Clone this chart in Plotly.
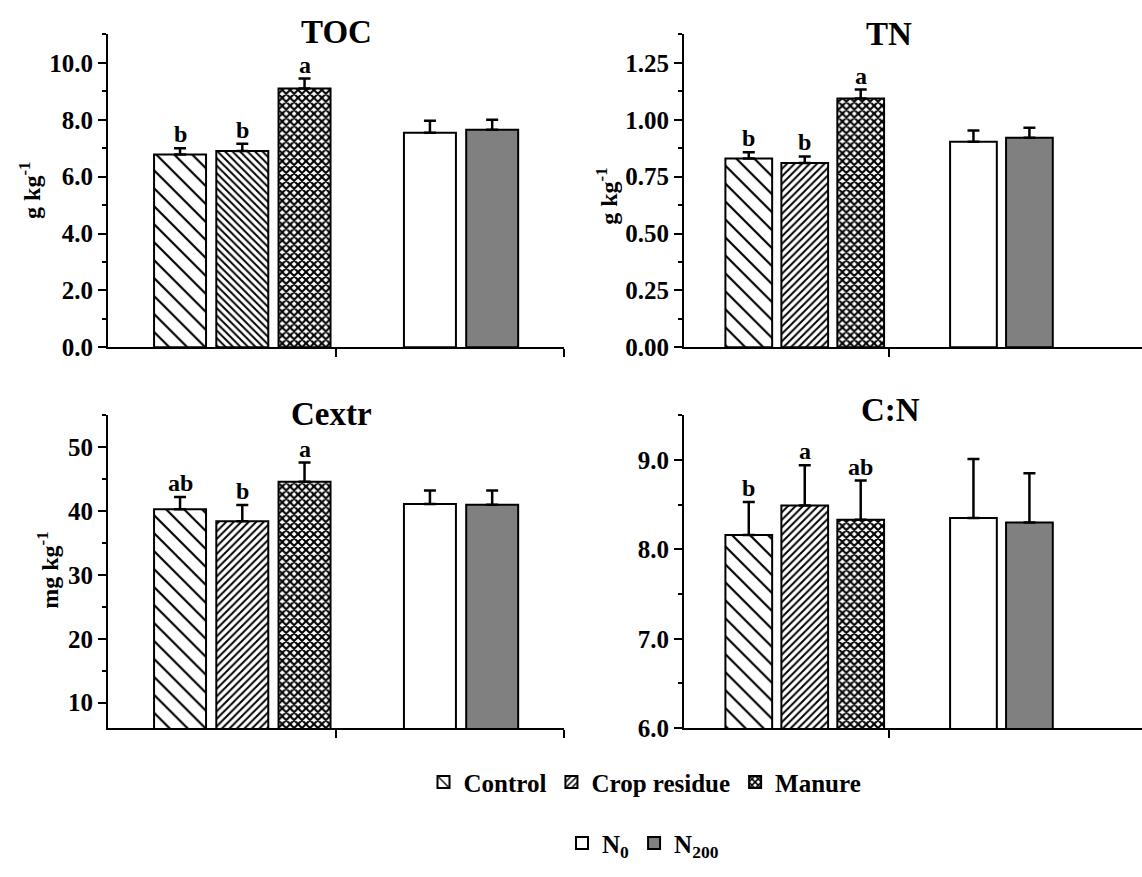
import plotly.graph_objects as go

# ---------------- data ----------------
treatments = ["Control", "Crop residue", "Manure"]
n_levels = ["N<sub>0</sub>", "N<sub>200</sub>"]
panel_titles = ["TOC", "TN", "Cextr", "C:N"]
unit_labels = ["g kg<sup>-1</sup>", "g kg<sup>-1</sup>", "mg kg<sup>-1</sup>", ""]

toc_mean = [6.78, 6.90, 9.10, 7.54, 7.65]
toc_err = [0.22, 0.26, 0.35, 0.43, 0.35]
toc_letters = ["b", "b", "a", "", ""]

tn_mean = [0.830, 0.810, 1.094, 0.903, 0.921]
tn_err = [0.027, 0.029, 0.039, 0.050, 0.044]
tn_letters = ["b", "b", "a", "", ""]

cextr_mean = [40.3, 38.4, 44.6, 41.1, 41.0]
cextr_err = [1.9, 2.55, 3.0, 2.1, 2.2]
cextr_letters = ["ab", "b", "a", "", ""]

cn_mean = [8.16, 8.49, 8.33, 8.35, 8.30]
cn_err = [0.37, 0.45, 0.44, 0.66, 0.55]
cn_letters = ["b", "a", "ab", "", ""]

# ---------------- layout constants ----------------
FONT = "Liberation Serif, Times New Roman, serif"
W, H = 1142, 877

def xdom(a, b):
    return [a / W, b / W]

def ydom(top, bottom):
    return [1 - bottom / H, 1 - top / H]

step = 0.273
bar_w = 0.228
positions = [0.316, 0.316 + step, 0.316 + 2 * step, 1.412, 1.412 + step]

names = treatments + n_levels

def style(i, crop_shape="/"):
    if i == 0:
        return dict(color="white", pattern=dict(shape="\\", size=12.7, solidity=0.17,
                                                 fgcolor="black", bgcolor="white", fillmode="replace"))
    if i == 1:
        return dict(color="white", pattern=dict(shape=crop_shape, size=5.3, solidity=0.36,
                                                 fgcolor="black", bgcolor="white", fillmode="replace"))
    if i == 2:
        return dict(color="white", pattern=dict(shape="x", size=5.6, solidity=0.6,
                                                 fgcolor="black", bgcolor="white", fillmode="replace"))
    if i == 3:
        return dict(color="white")
    return dict(color="#808080")

panels = [
    dict(mean=toc_mean, err=toc_err, letters=toc_letters, xd=(108, 564), yd=(35, 353),
         xr=[0, 2.0], xticks=[1, 2], yr=[0, 11], dt=2, mdt=1, fmt=".1f", crop="\\",
         title_xy=(336, 33), unit_xy=(30, 194)),
    dict(mean=tn_mean, err=tn_err, letters=tn_letters, xd=(684, 1142), yd=(35, 353),
         xr=[0, 458 / 205], xticks=[1], yr=[0, 1.375], dt=0.25, mdt=0.125, fmt=".2f", crop="/",
         title_xy=(889, 35), unit_xy=(607, 200)),
    dict(mean=cextr_mean, err=cextr_err, letters=cextr_letters, xd=(108, 564), yd=(422, 740),
         xr=[0, 2.0], xticks=[1, 2], yr=[6, 55], dt=10, mdt=5, fmt="d", crop="/",
         title_xy=(331, 421), unit_xy=(48, 580)),
    dict(mean=cn_mean, err=cn_err, letters=cn_letters, xd=(684, 1142), yd=(422, 740),
         xr=[0, 458 / 205], xticks=[1], yr=[6, 9.5], dt=1, mdt=0.5, fmt=".1f", crop="/",
         title_xy=(890, 417), unit_xy=(607, 580)),
]

fig = go.Figure()
annotations = []
layout_axes = {}

for k, p in enumerate(panels):
    idx = "" if k == 0 else str(k + 1)
    xa, ya = "x" + idx, "y" + idx
    for i in range(5):
        m = style(i, p["crop"])
        m["line"] = dict(color="black", width=2)
        fig.add_trace(go.Bar(
            x=[positions[i]], y=[p["mean"][i]], width=bar_w,
            marker=m, name=names[i],
            error_y=dict(type="data", symmetric=False, array=[p["err"][i]], arrayminus=[0],
                         color="black", thickness=2.5, width=6),
            xaxis=xa, yaxis=ya,
            showlegend=(k == 1),
            legend="legend" if i < 3 else "legend2",
            hoverinfo="skip",
        ))
        if p["letters"][i]:
            annotations.append(dict(
                x=positions[i], y=p["mean"][i] + p["err"][i], xref=xa, yref=ya,
                text=p["letters"][i], showarrow=False, yanchor="bottom", yshift=-1,
                font=dict(family=FONT, size=24, color="black", weight="bold")))
    # title
    tx, ty = p["title_xy"]
    annotations.append(dict(x=tx / W, y=1 - ty / H, xref="paper", yref="paper",
                            text=panel_titles[k], showarrow=False,
                            xanchor="center", yanchor="middle",
                            font=dict(family=FONT, size=33, color="black", weight="bold")))
    if unit_labels[k]:
        ux, uy = p["unit_xy"]
        annotations.append(dict(x=ux / W, y=1 - uy / H, xref="paper", yref="paper",
                                text=unit_labels[k], showarrow=False, textangle=-90,
                                xanchor="center", yanchor="middle",
                                font=dict(family=FONT, size=24, color="black", weight="bold")))
    layout_axes["xaxis" + idx] = dict(
        domain=xdom(*p["xd"]), range=p["xr"], anchor=ya, showline=True, linewidth=2,
        linecolor="black", ticks="outside", ticklen=8, tickwidth=2, tickcolor="black",
        tickvals=p["xticks"], showticklabels=False, showgrid=False, zeroline=False,
        fixedrange=True)
    layout_axes["yaxis" + idx] = dict(
        domain=ydom(*p["yd"]), range=p["yr"], anchor=xa, showline=True, linewidth=2,
        linecolor="black", ticks="outside", ticklen=8, tickwidth=2, tickcolor="black",
        dtick=p["dt"], tick0=0, tickformat=p["fmt"], showgrid=False, zeroline=False,
        tickfont=dict(family=FONT, size=25, color="black", weight="bold"),
        minor=dict(ticks="outside", ticklen=4, tickwidth=2, tickcolor="black",
                   dtick=p["mdt"], tick0=0, showgrid=False),
        fixedrange=True)

legend_font = dict(family=FONT, size=25, color="black", weight="bold")
fig.update_layout(
    width=W, height=H,
    margin=dict(l=0, r=0, t=0, b=0),
    paper_bgcolor="white", plot_bgcolor="white",
    barmode="overlay",
    annotations=annotations,
    font=dict(family=FONT, color="black"),
    legend=dict(orientation="h", x=645 / W, xanchor="center", y=1 - 795 / H, yanchor="middle",
                font=legend_font, bgcolor="rgba(0,0,0,0)", traceorder="normal"),
    legend2=dict(orientation="h", x=643 / W, xanchor="center", y=1 - 857 / H, yanchor="middle",
                 font=legend_font, bgcolor="rgba(0,0,0,0)", traceorder="normal"),
    **layout_axes,
)

fig.write_html("out.html")
